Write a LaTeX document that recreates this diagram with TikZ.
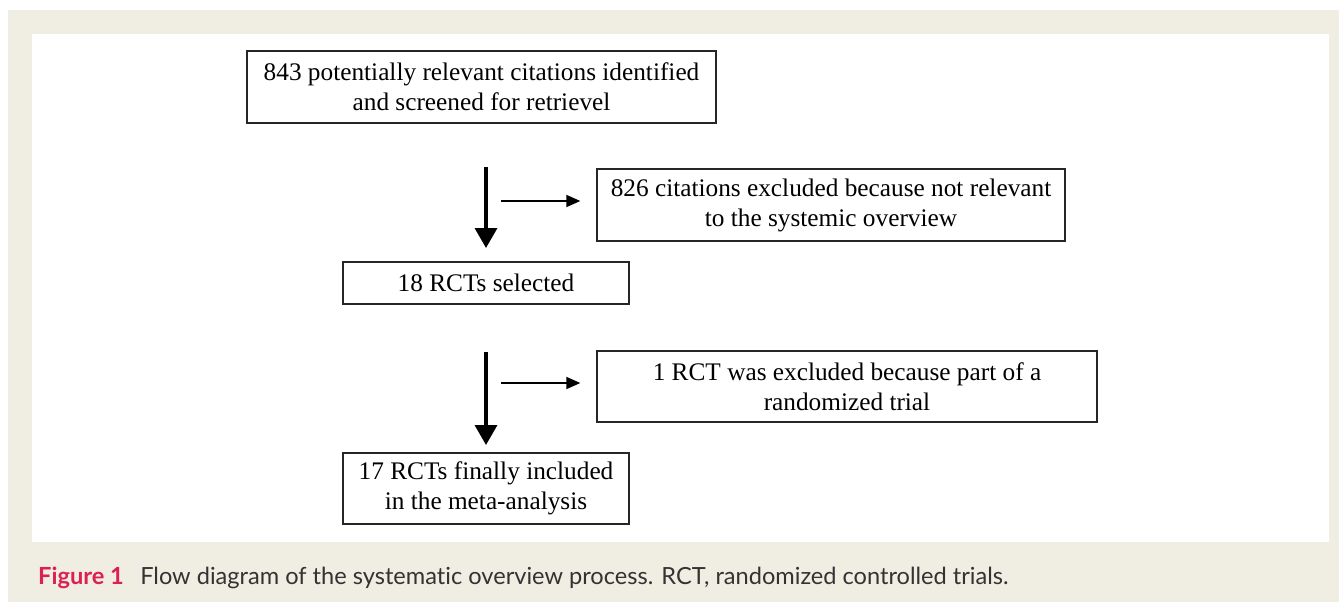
\documentclass[tikz,border=0pt]{standalone}
\usepackage{fontspec}
\setmainfont{Liberation Serif}
\newfontfamily\capfont[Ligatures=NoCommon]{Lato}
\usepackage{tikz}
\usetikzlibrary{arrows.meta, positioning, calc}

\definecolor{framebeige}{HTML}{F0EDE2}
\definecolor{figred}{HTML}{DC2150}
\definecolor{captext}{HTML}{333333}

\begin{document}
\begin{tikzpicture}[
    x=1pt, y=-1pt,
    box_node/.style={draw=black!85, line width=1.3pt, fill=white, align=center,
                     inner sep=0pt, font=\fontsize{25.3}{30}\selectfont},
    main_arrow/.style={line width=3.6pt, -{Triangle[length=20pt, width=22pt]}},
    side_arrow/.style={line width=1.6pt, -{Triangle[length=14pt, width=12pt]}}
    ]
    % Frame
    \fill[white] (0,0) rectangle (1339,602);
    \fill[framebeige] (8,10) rectangle (1339,602);
    \fill[white] (32,34) rectangle (1329,542);
    \useasboundingbox (0,0) rectangle (1339,602);

    % Nodes
    \node[box_node, minimum width=469pt, minimum height=72pt] (cited) at (481.5,87)
        {843 potentially relevant citations identified\\and screened for retrievel};
    \node[box_node, minimum width=468pt, minimum height=72pt] (excl1) at (831,205)
        {826 citations excluded because not relevant\\to the systemic overview};
    \node[box_node, minimum width=286pt, minimum height=42pt] (selected) at (486,283)
        {18 RCTs selected};
    \node[box_node, minimum width=500pt, minimum height=71pt] (excl2) at (847,386.5)
        {1 RCT was excluded because part of a\\randomized trial};
    \node[box_node, minimum width=286pt, minimum height=71pt] (included) at (486,488.5)
        {17 RCTs finally included\\in the meta-analysis};

    % Arrow ends
    \coordinate (s1) at (486,167);
    \coordinate (e1) at (486,248);
    \coordinate (h1) at (501,201);
    \coordinate (s2) at (486,352);
    \coordinate (e2) at (486,445);
    \coordinate (h2) at (501,383);

    % Arrows
    \draw[main_arrow] (s1) -- (e1);
    \draw[side_arrow] (h1) -- ($(h1 -| excl1.west)+(-16,0)$);
    \draw[main_arrow] (s2) -- (e2);
    \draw[side_arrow] (h2) -- ($(h2 -| excl2.west)+(-16,0)$);

    % Caption
    \node[anchor=base west, inner sep=0pt, font=\capfont\fontsize{23.6}{26}\selectfont]
        (caption) at (38,584)
        {\textcolor{figred}{\bfseries Figure 1}\hspace{0.7em}\textcolor{captext}{Flow diagram of the systematic overview process. RCT, randomized controlled trials.}};
\end{tikzpicture}
\end{document}
